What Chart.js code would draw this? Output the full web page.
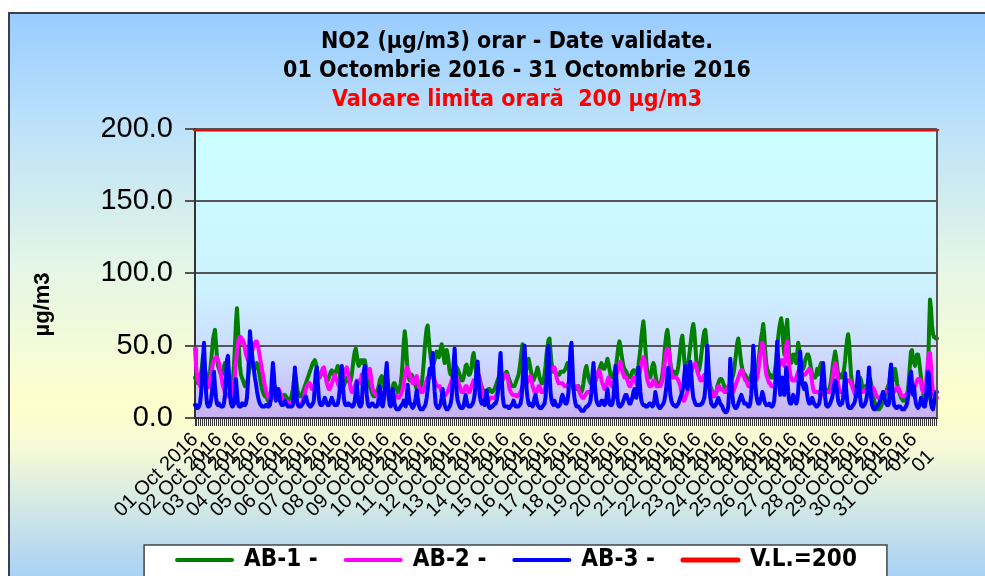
<!DOCTYPE html>
<html>
<head>
<meta charset="utf-8">
<script src="https://cdn.jsdelivr.net/npm/chart.js@4.4.1/dist/chart.umd.min.js"></script>
<style>
  html, body { margin: 0; padding: 0; background: #fff; overflow: hidden; }
  #frame {
    position: absolute; left: 8px; top: 12px; width: 975px; height: 562px;
    border: 2px solid #3c3c4c;
    background: linear-gradient(to bottom, #99ccff 0%, #b9e0fb 18%, #e4f6e6 45%, #ffffcc 70%, #f4f9d8 78%, #a8d2f6 100%);
  }
  #chart { position: absolute; left: 0; top: 0; }
</style>
</head>
<body>
<div id="frame"><canvas id="chart" width="975" height="562"></canvas></div>
<script>
// NO2 hourly values, October 2016 - one row per day, hours 01..24
const days = ["01","02","03","04","05","06","07","08","09","10","11","12","13","14","15","16",
  "17","18","19","20","21","22","23","24","25","26","27","28","29","30","31"];
const hours = ["01","02","03","04","05","06","07","08","09","10","11","12",
  "13","14","15","16","17","18","19","20","21","22","23","24"];

const ab1 = [
  28,26,25,24,24,26,30,36,43,40,34,30,28,27,28,32,38,46,54,58,61,52,42,36,
  34,32,30,30,32,36,38,36,32,28,24,22,22,24,28,36,50,66,76,64,48,36,30,28,
  26,24,22,22,24,28,32,36,38,38,36,34,34,36,38,36,32,28,24,20,18,16,15,15,
  14,12,11,11,12,14,18,20,22,20,18,17,16,16,15,15,15,16,16,15,14,13,13,13,
  14,16,20,26,31,28,22,18,16,15,15,16,18,20,22,24,26,28,30,32,34,36,38,39,
  40,38,34,30,28,28,30,32,34,33,30,28,26,26,28,30,32,33,32,30,30,32,34,36,
  34,30,26,24,22,22,24,26,28,28,26,24,26,30,36,42,46,48,44,38,36,38,40,40,
  38,40,40,36,30,26,24,22,20,18,16,15,15,16,18,20,22,26,28,29,26,22,20,20,
  20,18,17,16,16,18,22,24,24,22,20,18,18,20,24,30,40,52,60,54,42,32,28,26,
  30,30,28,26,24,22,20,20,20,20,22,24,30,38,48,56,62,64,56,48,42,38,36,38,
  40,44,46,44,42,44,48,51,48,42,38,42,47,44,38,32,30,30,32,34,36,36,35,34,
  32,30,28,26,26,28,32,36,37,34,30,30,32,36,42,45,40,34,30,28,28,26,24,22,
  20,19,18,18,18,18,20,20,19,18,18,19,20,22,24,26,28,28,28,27,26,28,30,31,
  32,30,28,26,24,22,22,22,22,24,26,28,30,34,40,46,51,44,36,32,34,38,41,38,
  34,30,28,26,28,30,32,35,32,28,26,24,24,26,30,36,44,50,54,55,46,38,34,32,
  34,32,30,30,30,30,32,32,32,32,33,34,36,38,36,32,28,24,22,20,20,20,20,21,
  22,20,18,18,20,24,30,34,36,32,28,26,24,24,22,22,24,26,28,30,32,34,36,38,
  36,34,34,36,38,41,38,34,30,28,28,30,32,34,38,44,50,53,50,44,40,36,34,33,
  32,30,28,28,28,30,32,33,33,32,30,32,36,42,48,56,62,67,60,48,38,32,30,28,
  28,32,36,38,36,30,26,24,24,24,24,26,30,36,44,52,58,61,56,46,38,34,32,32,
  32,30,30,32,36,42,48,54,57,50,40,34,32,34,38,44,50,56,62,65,60,50,40,34,
  32,34,38,44,50,56,60,61,54,44,34,26,22,20,18,16,15,16,18,22,24,26,27,27,
  26,24,22,20,18,18,20,22,24,26,28,30,34,40,46,52,55,50,44,38,34,32,30,30,
  28,26,26,26,28,30,32,32,30,30,32,34,38,44,50,56,60,65,58,46,38,34,32,30,
  30,28,28,28,30,34,40,48,56,62,66,69,64,52,44,50,62,68,56,44,40,38,40,44,
  44,40,38,44,52,48,40,36,34,34,36,40,42,44,44,42,38,34,30,28,28,28,30,34,
  30,32,36,38,34,28,22,20,18,18,18,20,22,26,32,38,42,46,42,36,30,28,28,30,
  28,30,34,40,48,54,58,52,40,30,24,22,20,20,20,22,24,26,28,26,22,20,20,22,
  22,22,24,26,27,24,20,16,12,10,8,7,6,6,7,8,10,12,14,16,18,20,22,24,
  30,36,30,26,30,34,30,24,20,18,16,14,13,12,12,13,14,16,20,28,38,46,47,40,
  38,36,40,44,44,40,34,28,22,18,14,12,12,14,30,60,82,76,64,58,56,56,55,55
];

const ab2 = [
  48,36,30,26,24,22,22,24,28,30,28,24,22,21,22,26,30,34,38,40,41,42,42,40,
  38,34,30,26,22,20,18,17,16,15,15,15,16,18,20,24,30,38,46,52,55,56,56,52,
  54,52,48,44,42,40,40,42,44,46,48,50,52,53,53,50,46,42,38,34,30,26,22,19,
  17,15,14,13,13,14,16,18,18,17,18,20,20,18,16,14,13,12,12,12,11,11,10,10,
  10,10,10,11,12,12,11,10,9,9,9,10,12,14,17,20,22,23,24,24,22,20,20,22,
  24,26,28,28,28,29,30,32,34,35,32,28,24,22,20,20,22,24,26,28,30,28,26,24,
  22,22,24,26,28,30,32,34,35,32,28,24,20,18,18,20,22,24,26,26,24,24,26,30,
  28,26,24,26,28,30,32,34,30,24,20,18,17,16,16,16,17,18,18,17,16,16,16,18,
  22,20,18,16,15,14,14,15,16,16,15,14,14,15,16,18,20,24,28,32,35,34,32,30,
  28,26,24,24,26,28,29,26,22,20,18,18,18,20,22,24,26,28,28,28,28,29,30,28,
  26,24,22,22,22,22,20,18,17,16,16,16,17,18,20,22,24,26,28,30,31,30,28,26,
  24,22,20,18,18,18,20,22,22,20,18,18,20,22,24,26,24,22,24,28,30,28,24,20,
  18,16,14,13,12,12,12,13,14,14,14,14,14,15,16,18,20,22,24,26,27,28,29,30,
  30,28,24,20,18,17,16,16,16,16,15,15,16,17,18,20,22,24,24,24,24,25,26,28,
  29,26,22,20,18,18,18,20,22,22,20,18,18,18,20,22,24,26,28,30,32,34,35,35,
  35,32,28,26,24,24,24,24,24,23,22,22,22,22,24,26,26,26,24,22,22,22,22,22,
  20,18,16,15,14,14,15,16,17,18,18,18,18,19,20,22,24,26,28,30,32,33,30,26,
  24,22,20,20,22,26,28,26,24,22,22,24,26,28,30,32,34,36,39,36,32,30,28,28,
  28,26,24,22,22,24,26,28,28,26,24,24,26,30,34,38,40,42,40,36,30,26,24,22,
  22,22,24,26,26,24,22,22,22,22,22,24,26,30,36,42,46,48,48,44,36,30,28,28,
  28,28,28,27,26,24,22,18,14,12,12,14,16,18,20,24,28,32,34,36,37,38,36,32,
  30,28,26,26,26,28,30,30,28,26,24,22,20,18,16,15,15,16,18,20,22,22,20,20,
  20,19,18,18,18,20,22,22,20,18,18,18,20,22,24,26,28,30,32,33,33,30,28,26,
  26,24,22,22,22,24,26,28,28,26,26,28,32,38,44,48,52,50,44,36,30,28,26,24,
  24,22,22,22,22,24,28,32,34,36,38,40,40,38,36,40,50,53,44,36,30,28,26,26,
  26,26,28,30,32,32,30,30,30,30,30,30,31,32,33,34,34,30,24,20,18,18,18,18,
  18,17,16,16,16,16,17,17,18,18,18,18,18,20,24,30,34,38,36,30,24,20,18,18,
  18,18,20,22,24,26,26,26,26,24,22,20,18,16,15,15,16,17,18,18,18,18,19,20,
  20,20,20,20,20,20,21,21,20,18,16,15,14,14,14,14,15,16,17,18,18,18,18,18,
  18,18,18,18,18,19,20,21,21,20,18,16,15,15,15,16,16,17,18,18,18,19,20,22,
  22,22,24,26,27,27,27,24,20,18,18,20,24,32,40,45,45,36,24,18,16,15,14,14
];

const ab3 = [
  9,8,7,7,8,10,16,26,40,52,34,18,10,8,8,9,12,18,26,32,22,14,10,9,
  10,9,8,8,8,10,16,28,40,43,30,16,10,8,8,10,18,27,18,10,8,8,8,10,
  10,9,9,10,14,24,42,60,52,45,38,33,28,24,19,15,12,10,9,8,8,8,8,9,
  9,8,8,9,14,28,38,30,18,12,14,20,18,12,10,9,9,10,12,10,9,8,8,8,
  8,8,9,20,35,24,12,9,8,8,8,9,10,12,14,15,12,10,9,8,8,9,10,12,
  22,32,35,24,14,10,9,9,10,12,14,12,10,9,9,10,12,14,12,10,9,9,9,10,
  14,20,30,36,24,14,10,9,9,10,10,9,9,8,8,9,12,18,25,16,10,8,8,10,
  24,32,36,26,16,10,8,8,9,10,10,9,8,8,8,9,14,22,14,9,8,12,20,30,
  38,26,14,9,8,10,20,14,9,7,6,6,6,7,8,9,10,12,10,8,14,23,16,10,
  10,8,7,8,10,14,19,14,9,7,6,6,6,7,8,10,14,20,28,34,30,36,45,30,
  18,10,8,7,7,8,10,14,20,14,9,7,6,6,7,8,10,14,24,38,48,32,18,12,
  10,8,7,7,7,8,12,16,12,9,8,8,8,9,10,12,16,24,34,39,28,16,12,10,
  12,10,9,14,19,12,8,7,7,8,8,9,10,10,12,16,24,36,45,30,16,10,8,8,
  8,8,7,7,8,9,10,12,10,8,8,8,8,9,10,14,24,40,50,36,20,14,10,9,
  10,9,8,10,14,16,12,9,8,7,7,7,8,9,10,14,26,44,50,32,18,12,10,9,
  12,10,9,8,8,9,10,14,16,14,12,10,10,12,18,34,48,52,36,20,14,10,8,8,
  8,7,6,5,5,5,6,7,8,8,9,10,12,18,30,38,28,18,12,10,9,9,10,12,
  12,10,9,10,14,20,14,10,9,9,10,14,24,36,26,14,9,8,8,9,10,12,14,16,
  16,14,12,10,10,12,14,18,20,16,14,22,35,28,18,12,10,9,9,8,8,8,9,10,
  10,9,8,9,12,18,14,10,8,7,7,8,9,10,12,16,22,30,35,26,16,12,10,9,
  9,8,8,9,10,12,14,16,18,22,30,36,28,20,24,32,39,30,20,14,12,10,9,9,
  9,9,9,10,10,12,14,20,34,50,36,22,14,10,9,8,8,9,10,12,14,12,10,9,
  8,6,5,4,4,5,8,20,41,30,16,10,8,7,7,8,10,12,14,16,14,12,10,10,
  10,9,8,8,10,16,30,50,40,24,16,12,10,10,12,14,18,16,12,10,9,9,9,10,
  9,8,8,9,12,20,36,53,40,24,16,20,28,22,16,20,35,28,18,12,10,10,12,16,
  14,12,10,12,18,34,46,36,24,22,20,24,22,16,12,10,10,12,14,12,10,9,8,8,
  9,10,14,22,30,38,28,14,9,8,8,9,10,12,14,18,22,26,24,18,12,10,9,10,
  10,14,22,31,20,12,8,7,7,7,8,9,10,12,16,24,32,24,14,9,8,8,9,10,
  12,16,26,35,24,14,9,7,6,6,7,8,9,10,12,14,16,18,16,12,10,9,9,10,
  30,37,24,14,9,8,7,7,8,8,8,7,6,6,6,7,8,10,14,20,28,32,24,16,
  22,14,10,8,7,8,10,14,12,9,8,8,14,24,32,30,18,10,7,6,10,14,18,18
];

const limitValue = 200;
const yMax = 200;
const yStep = 50;

const titleLines = ["NO2 (\u00b5g/m3) orar - Date validate.", "01 Octombrie 2016 - 31 Octombrie 2016"];
const limitCaption = "Valoare limita orar\u0103  200 \u00b5g/m3";
const axisCaption = "\u00b5g/m3";

const hourLabels = days.flatMap(d => hours.map(h => d + " Oct 2016 " + h));

const condensed = "'DejaVu Sans Condensed', 'DejaVu Sans', sans-serif";
const sans = "'Liberation Sans', Arial, sans-serif";

// plot background, legend box, right frame line and the y caption
const decor = {
  id: "decor",
  beforeDraw(chart) {
    const { ctx, chartArea: a, legend } = chart;
    ctx.save();
    const g = ctx.createLinearGradient(0, a.top, 0, a.bottom);
    g.addColorStop(0, "#ccffff");
    g.addColorStop(0.55, "#ccf2ff");
    g.addColorStop(0.8, "#cdd8ff");
    g.addColorStop(1, "#c8b0f4");
    ctx.fillStyle = g;
    ctx.fillRect(a.left, a.top, a.right - a.left, a.bottom - a.top);

    const boxes = legend.legendHitBoxes || [];
    if (boxes.length) {
      const l = Math.min(...boxes.map(b => b.left)) - 33;
      const r = Math.max(...boxes.map(b => b.left + b.width)) + 30;
      const t = boxes[0].top - 3;
      ctx.fillStyle = "#fff";
      ctx.fillRect(l, t, r - l, chart.height - t + 5);
      ctx.strokeStyle = "#444";
      ctx.lineWidth = 1.5;
      ctx.strokeRect(l, t, r - l, chart.height - t + 5);
    }
    ctx.restore();
  },
  afterDraw(chart) {
    const { ctx, chartArea: a } = chart;
    ctx.save();
    ctx.strokeStyle = "#555";
    ctx.lineWidth = 2;
    ctx.beginPath();
    ctx.moveTo(a.right, a.top);
    ctx.lineTo(a.right, a.bottom);
    ctx.stroke();

    ctx.translate(33, (a.top + a.bottom) / 2 + 31);
    ctx.rotate(-Math.PI / 2);
    ctx.font = "bold 22px " + sans;
    ctx.fillStyle = "#000";
    ctx.textAlign = "center";
    ctx.textBaseline = "middle";
    ctx.fillText(axisCaption, 0, 0);
    ctx.restore();
  }
};

const lineStyle = {
  borderWidth: 4,
  pointRadius: 0,
  tension: 0,
  borderJoinStyle: "round",
  borderCapStyle: "round",
  yAxisID: "y"
};

new Chart(document.getElementById("chart").getContext("2d"), {
  type: "line",
  data: {
    labels: hourLabels,
    datasets: [
      { ...lineStyle, label: "AB-1 -", data: ab1, borderColor: "#008000", backgroundColor: "#008000", order: 3 },
      { ...lineStyle, label: "AB-2 -", data: ab2, borderColor: "#ff00ff", backgroundColor: "#ff00ff", order: 2 },
      { ...lineStyle, label: "AB-3 -", data: ab3, borderColor: "#0000ff", backgroundColor: "#0000ff", order: 1 },
      {
        ...lineStyle,
        label: "V.L.=200",
        data: [
          { x: hourLabels[0], y: limitValue },
          { x: hourLabels[hourLabels.length - 1], y: limitValue }
        ],
        borderColor: "#ff0000",
        backgroundColor: "#ff0000",
        borderWidth: 5,
        order: 0
      }
    ]
  },
  options: {
    responsive: false,
    devicePixelRatio: 1,
    animation: false,
    events: [],
    layout: { padding: { left: 16, right: -23, top: 0, bottom: -6 } },
    plugins: {
      tooltip: { enabled: false },
      title: {
        display: true,
        text: titleLines,
        color: "#000",
        font: { family: condensed, size: 23, weight: "bold", lineHeight: 1.26 },
        padding: { top: 14, bottom: 0 }
      },
      subtitle: {
        display: true,
        text: limitCaption,
        color: "#ff0000",
        font: { family: condensed, size: 23, weight: "bold", lineHeight: 1.26 },
        padding: { top: 0, bottom: 14 }
      },
      legend: {
        position: "bottom",
        labels: {
          usePointStyle: true,
          pointStyle: "line",
          pointStyleWidth: 55,
          padding: 28,
          color: "#000",
          font: { family: condensed, size: 24, weight: "bold" },
          sort: (a, b) => a.datasetIndex - b.datasetIndex,
          generateLabels: chart =>
            Chart.defaults.plugins.legend.labels.generateLabels(chart)
              .map(item => ({ ...item, lineCap: "round" }))
        }
      }
    },
    scales: {
      x: {
        type: "category",
        grid: {
          drawOnChartArea: false,
          tickLength: 8,
          color: c => (c.index % 2 === 0 ? "#333" : "rgba(0,0,0,0)")
        },
        border: { color: "#333", width: 2 },
        ticks: {
          autoSkip: false,
          maxRotation: 45,
          minRotation: 45,
          padding: 2,
          color: "#000",
          font: { family: sans, size: 20 },
          callback(value, index) {
            if (index % 24 !== 0) return "";
            const lbl = this.getLabelForValue(value);
            return [lbl.slice(0, 11), lbl.slice(12)];
          }
        },
        afterFit(scale) { scale.height = 102; }
      },
      y: {
        min: 0,
        max: yMax,
        grid: { color: "#555", lineWidth: 2, tickLength: 10 },
        border: { color: "#333", width: 2 },
        ticks: {
          stepSize: yStep,
          padding: 12,
          color: "#000",
          font: { family: sans, size: 29 },
          callback: v => v.toFixed(1)
        },
        afterFit(scale) { scale.width = 169; }
      },
      y2: {
        display: true,
        position: "right",
        grid: { display: false },
        border: { display: false },
        ticks: { display: false },
        afterFit(scale) { scale.width = 71; }
      }
    }
  },
  plugins: [decor]
});
</script>
</body>
</html>
